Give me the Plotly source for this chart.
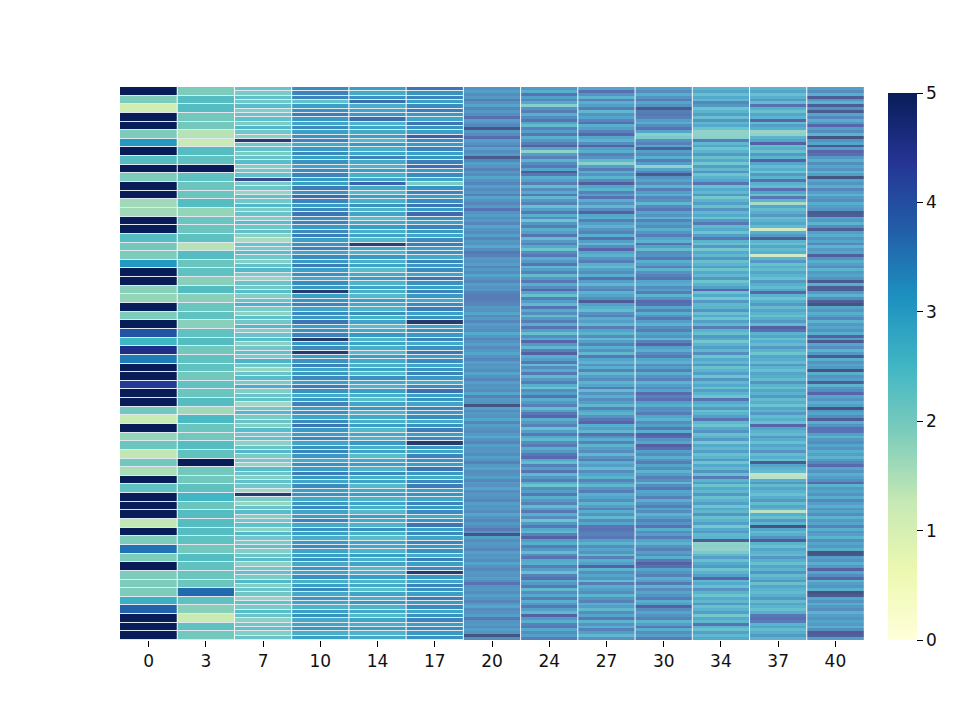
import plotly.graph_objects as go

# column labels along the bottom
col_labels = ["0", "3", "7", "10", "14", "17", "20", "24", "27", "30", "34", "37", "40"]

# values per column, read top to bottom (columns have different row counts)
col_0 = [
    5.0, 1.9, 1.1, 5.0, 5.0, 1.9, 3.0, 5.0, 2.3, 5.0, 1.9, 5.0, 5.0, 1.6, 1.6, 5.0,
    5.0, 2.3, 2.0, 1.9, 3.0, 5.0, 5.0, 1.8, 1.7, 5.0, 1.9, 5.0, 3.9, 2.5, 4.5, 3.4,
    5.0, 5.0, 4.3, 5.0, 5.0, 2.0, 1.2, 5.0, 1.7, 2.1, 1.3, 2.0, 1.5, 5.0, 2.2, 5.0,
    5.0, 5.0, 1.3, 5.0, 1.9, 3.5, 1.9, 5.0, 1.9, 1.9, 1.9, 2.6, 3.7, 5.0, 5.0, 5.0,
]
col_3 = [
    1.9, 2.3, 2.3, 2.0, 2.0, 1.4, 1.2, 2.3, 2.2, 5.0, 2.2, 2.1, 2.1, 2.3, 1.7, 2.1,
    2.1, 2.2, 1.4, 2.3, 2.1, 2.2, 1.8, 2.3, 1.8, 2.1, 2.2, 1.8, 2.2, 2.3, 2.0, 2.2,
    2.2, 2.0, 2.2, 2.1, 2.3, 1.6, 2.4, 2.1, 2.0, 2.3, 2.2, 5.0, 2.0, 2.0, 2.2, 2.5,
    2.1, 2.3, 2.3, 2.3, 2.2, 2.0, 2.3, 2.2, 2.1, 2.1, 3.6, 2.2, 1.8, 1.2, 2.2, 2.0,
]
col_7 = [
    2.3, 2.1, 2.4, 2.2, 2.5, 2.0, 2.3, 2.4, 2.1, 2.6, 2.2, 1.9, 5.0, 2.2, 2.4, 2.1,
    2.3, 2.5, 2.0, 2.2, 2.4, 4.6, 2.1, 2.3, 1.8, 2.4, 2.2, 2.6, 2.1, 2.3, 2.0, 2.5,
    2.2, 2.4, 1.9, 1.6, 2.3, 2.1, 2.5, 2.2, 2.0, 2.4, 2.6, 2.1, 1.8, 2.3, 2.2, 2.5,
    2.0, 2.3, 2.7, 2.1, 1.9, 2.4, 2.2, 2.6, 2.0, 2.3, 2.5, 1.9, 2.2, 2.4, 2.1, 2.7,
    2.2, 1.8, 2.3, 2.5, 2.1, 2.8, 2.0, 2.3, 2.4, 1.7, 2.2, 2.6, 2.1, 2.3, 2.0, 2.5,
    2.2, 2.4, 1.9, 2.3, 2.6, 2.1, 2.2, 1.8, 2.5, 2.3, 2.0, 2.4, 2.2, 1.7, 5.0, 2.1,
    1.8, 2.3, 2.5, 2.0, 2.2, 2.4, 1.9, 2.6, 2.2, 2.1, 2.4, 2.0, 2.3, 2.5, 1.9, 2.2,
    2.4, 2.1, 2.6, 2.0, 2.3, 2.2, 1.8, 2.4, 2.1, 2.5, 2.3, 1.9, 2.2, 2.4, 2.0, 2.3,
]
col_10 = [
    3.4, 3.5, 3.5, 2.4, 3.1, 3.3, 3.6, 3.2, 3.0, 3.4, 3.1, 3.3, 3.5, 2.9, 3.2, 3.4,
    3.1, 3.3, 3.0, 3.4, 3.5, 3.2, 3.1, 3.6, 3.3, 3.9, 3.5, 3.2, 3.4, 3.7, 3.3, 3.5,
    3.2, 3.4, 3.6, 3.1, 3.3, 3.5, 3.0, 3.4, 3.2, 3.6, 3.1, 3.3, 2.9, 3.4, 3.2, 5.0,
    3.1, 3.3, 3.5, 3.0, 3.4, 3.2, 3.7, 3.1, 3.3, 3.5, 5.0, 3.2, 3.4, 5.0, 3.1, 3.3,
    3.5, 3.0, 3.2, 3.4, 3.1, 3.6, 3.3, 2.9, 3.2, 3.5, 3.1, 3.3, 3.0, 3.4, 3.7, 3.2,
    3.1, 3.4, 3.0, 3.3, 3.5, 3.2, 2.9, 3.3, 3.1, 3.6, 3.2, 3.0, 3.4, 3.1, 3.3, 2.9,
    3.2, 3.4, 3.0, 3.1, 3.5, 2.9, 3.3, 3.1, 2.8, 3.2, 3.4, 3.0, 3.1, 3.3, 2.9, 3.2,
    3.0, 3.3, 2.8, 3.1, 3.4, 2.9, 3.2, 3.0, 2.7, 3.1, 3.3, 2.9, 3.0, 3.2, 2.8, 3.1,
]
col_14 = [
    3.1, 2.9, 3.3, 3.8, 2.8, 3.0, 3.2, 3.8, 2.7, 3.0, 2.9, 3.1, 2.6, 3.2, 2.8, 3.0,
    3.5, 2.9, 2.7, 3.1, 2.8, 3.0, 4.0, 2.9, 2.6, 3.1, 2.8, 3.3, 2.7, 3.0, 2.5, 2.9,
    3.1, 2.8, 3.0, 2.6, 4.9, 2.9, 2.7, 3.2, 2.8, 3.0, 2.5, 2.9, 3.1, 2.7, 3.0, 2.8,
    2.6, 3.1, 2.9, 2.7, 3.3, 2.8, 3.0, 2.5, 2.9, 3.2, 2.7, 3.0, 2.8, 2.6, 3.1, 2.9,
    2.8, 3.0, 2.6, 3.3, 2.9, 2.7, 3.1, 2.8, 2.5, 3.0, 3.2, 2.7, 2.9, 2.8, 3.1, 2.6,
    2.9, 2.7, 3.2, 2.8, 3.0, 2.5, 2.9, 3.1, 2.7, 3.4, 2.8, 3.0, 2.6, 2.9, 3.1, 2.7,
    3.0, 2.8, 2.6, 3.1, 2.9, 2.7, 3.3, 2.8, 2.5, 3.0, 2.9, 2.7, 3.1, 2.8, 3.0, 2.6,
    2.8, 3.1, 2.7, 2.9, 2.5, 3.0, 2.8, 3.2, 2.7, 2.9, 2.6, 3.0, 2.8, 3.1, 2.7, 2.9,
]
col_17 = [
    3.7, 3.3, 3.5, 3.1, 3.4, 3.6, 3.2, 3.0, 3.7, 3.3, 3.1, 4.1, 3.4, 3.2, 3.5, 3.1,
    3.3, 3.6, 3.8, 3.2, 3.4, 3.0, 2.1, 3.3, 3.5, 3.1, 3.4, 3.7, 3.2, 3.9, 3.3, 3.1,
    3.5, 3.2, 3.0, 3.4, 3.6, 3.1, 3.3, 2.9, 3.5, 3.2, 3.4, 3.0, 3.7, 3.3, 3.1, 3.5,
    3.2, 2.9, 3.4, 3.6, 3.1, 3.3, 5.0, 3.0, 3.4, 3.2, 3.5, 2.9, 3.3, 3.7, 3.1, 3.4,
    3.0, 3.3, 3.5, 3.2, 2.9, 3.4, 3.8, 3.1, 3.3, 3.0, 3.5, 3.2, 3.4, 2.9, 3.3, 3.6,
    3.1, 3.4, 5.0, 3.2, 3.0, 3.5, 3.3, 3.1, 3.7, 3.2, 2.9, 3.4, 3.6, 3.1, 3.3, 3.0,
    3.5, 3.2, 3.4, 2.9, 3.3, 3.7, 3.1, 3.4, 3.0, 3.5, 3.2, 3.3, 2.9, 3.6, 3.1, 3.4,
    5.0, 3.2, 3.0, 3.5, 3.3, 3.1, 3.6, 3.2, 3.4, 3.0, 3.3, 3.5, 3.1, 3.4, 3.2, 3.3,
]
col_20 = [
    3.5, 3.3, 3.6, 3.4, 3.9, 3.5, 3.2, 3.7, 3.4, 3.6, 4.2, 3.3, 3.5, 3.7, 4.9, 3.4,
    3.6, 4.3, 3.3, 3.5, 3.8, 3.2, 3.6, 3.4, 4.8, 3.7, 3.3, 3.5, 3.8, 3.4, 3.6, 3.2,
    3.5, 3.7, 3.3, 3.6, 3.4, 3.8, 3.2, 3.5, 3.7, 3.4, 4.1, 3.5, 3.3, 3.6, 3.4, 3.7,
    3.2, 3.5, 3.6, 3.3, 3.7, 3.4, 3.5, 3.1, 3.6, 4.0, 3.8, 3.4, 3.5, 3.3, 3.7, 3.4,
    3.6, 3.2, 3.5, 3.7, 3.3, 3.5, 3.4, 3.8, 3.9, 3.9, 3.8, 3.7, 3.4, 3.5, 3.2, 3.6,
    3.4, 3.7, 3.3, 3.5, 3.6, 3.1, 3.4, 3.7, 3.5, 3.3, 3.6, 3.4, 3.2, 3.5, 3.7, 3.3,
    3.5, 3.4, 3.6, 3.2, 3.5, 3.7, 3.3, 3.5, 3.4, 3.6, 3.2, 3.8, 3.4, 3.5, 5.0, 3.3,
    3.6, 3.4, 3.5, 3.2, 3.7, 3.3, 3.5, 3.6, 3.4, 3.1, 3.5, 3.7, 3.3, 3.5, 3.4, 3.6,
    3.3, 3.5, 3.8, 3.4, 3.2, 3.6, 3.5, 3.3, 3.7, 3.4, 3.5, 3.2, 3.6, 3.4, 3.5, 3.7,
    3.3, 3.5, 3.4, 3.6, 3.2, 3.5, 3.7, 3.4, 3.6, 4.0, 3.5, 5.0, 3.3, 3.6, 3.4, 3.5,
    3.7, 3.3, 3.5, 3.4, 3.6, 3.2, 3.5, 3.7, 3.4, 3.5, 3.3, 3.6, 4.1, 3.5, 3.4, 3.6,
    3.3, 3.5, 3.7, 3.4, 3.2, 3.6, 3.5, 3.3, 4.0, 3.5, 3.4, 3.6, 3.3, 3.5, 5.0, 3.6,
]
col_24 = [
    3.4, 3.0, 4.1, 3.3, 3.7, 3.1, 2.1, 3.5, 3.9, 3.0, 3.6, 4.1, 3.2, 2.7, 3.8, 3.3,
    4.0, 3.0, 3.4, 3.9, 4.5, 3.2, 2.0, 3.3, 3.8, 2.9, 3.6, 4.0, 3.2, 4.7, 4.0, 3.0,
    3.3, 3.9, 2.7, 3.6, 3.1, 4.0, 2.8, 3.4, 3.8, 2.6, 3.3, 4.0, 3.0, 3.6, 2.5, 3.4,
    3.9, 3.0, 3.3, 4.1, 2.7, 3.4, 3.8, 3.1, 2.5, 3.6, 4.0, 3.0, 3.4, 4.1, 2.8, 3.3,
    3.8, 2.7, 3.4, 4.0, 3.0, 3.6, 4.4, 3.2, 2.6, 3.9, 3.3, 2.8, 4.1, 3.1, 3.6, 2.7,
    3.4, 3.9, 3.0, 4.1, 3.3, 2.6, 3.6, 3.1, 4.4, 3.4, 2.8, 3.8, 4.5, 3.0, 3.3, 4.0,
    2.7, 3.6, 3.1, 4.0, 2.8, 3.4, 3.9, 3.0, 2.5, 3.6, 3.3, 4.1, 3.0, 3.4, 3.8, 2.7,
    3.3, 4.0, 4.4, 3.0, 3.4, 3.8, 2.6, 3.3, 4.0, 3.1, 2.8, 3.6, 3.9, 3.0, 3.4, 4.0,
    4.3, 3.1, 2.7, 3.8, 3.3, 4.1, 2.8, 3.4, 3.9, 3.0, 2.5, 3.6, 3.3, 4.0, 3.0, 3.4,
    3.8, 2.7, 3.3, 4.0, 3.0, 3.6, 2.5, 3.4, 4.0, 3.1, 2.8, 3.8, 4.5, 3.3, 3.0, 3.9,
    3.4, 2.7, 3.6, 4.1, 3.1, 3.0, 3.9, 3.3, 2.6, 3.8, 4.2, 3.1, 3.4, 4.0, 2.8, 3.6,
    3.1, 3.9, 3.0, 3.4, 4.0, 3.3, 2.8, 4.5, 3.4, 3.0, 3.8, 4.0, 3.1, 3.6, 3.3, 3.9,
]
col_27 = [
    3.2, 4.2, 3.5, 2.9, 3.8, 3.0, 3.3, 3.9, 2.8, 3.5, 3.2, 3.7, 4.2, 3.0, 3.3, 3.8,
    4.4, 3.2, 2.9, 3.6, 4.5, 3.3, 3.0, 3.8, 3.5, 2.8, 2.1, 3.3, 3.9, 3.0, 3.5, 2.9,
    3.6, 4.6, 3.2, 2.9, 3.8, 3.3, 4.1, 3.0, 3.5, 2.8, 3.6, 4.5, 3.2, 3.0, 3.9, 3.3,
    2.9, 3.5, 3.8, 3.0, 4.2, 3.3, 2.8, 3.6, 4.4, 3.2, 2.9, 3.5, 3.9, 3.0, 2.7, 3.3,
    3.6, 3.0, 4.2, 3.3, 2.8, 3.5, 3.8, 2.9, 3.2, 3.6, 4.7, 3.3, 3.0, 2.7, 3.5, 3.8,
    3.0, 3.3, 2.8, 3.9, 3.2, 2.9, 3.6, 2.7, 3.3, 3.8, 3.0, 3.5, 2.8, 4.0, 3.2, 2.9,
    3.5, 3.0, 3.8, 2.8, 3.3, 3.6, 2.9, 3.2, 3.9, 2.7, 3.5, 3.0, 3.6, 3.3, 2.8, 3.8,
    3.2, 2.9, 3.5, 4.0, 4.4, 3.0, 3.3, 2.8, 4.2, 3.5, 3.0, 3.8, 2.9, 3.3, 3.6, 2.8,
    3.5, 3.9, 3.0, 3.3, 2.7, 3.6, 3.2, 2.9, 3.8, 3.3, 2.8, 3.5, 3.9, 3.0, 3.2, 3.6,
    2.9, 3.3, 3.8, 3.0, 3.5, 2.8, 3.6, 3.2, 4.0, 4.1, 3.9, 3.8, 4.0, 3.3, 2.9, 3.6,
    3.2, 3.5, 2.8, 3.8, 3.0, 3.3, 4.5, 2.9, 3.6, 3.2, 3.5, 2.7, 3.9, 3.0, 3.3, 3.6,
    2.9, 3.5, 3.8, 3.0, 3.3, 2.8, 3.6, 3.2, 4.0, 2.9, 3.5, 3.0, 3.8, 3.3, 2.8, 3.5,
]
col_30 = [
    3.3, 3.6, 3.0, 3.5, 3.9, 3.2, 3.5, 4.8, 3.9, 4.0, 3.8, 3.3, 3.0, 3.6, 4.1, 3.2,
    2.1, 2.3, 3.5, 3.8, 3.2, 4.6, 3.3, 3.6, 3.0, 3.9, 3.3, 2.0, 3.2, 3.7, 4.8, 3.5,
    3.2, 3.6, 2.9, 3.9, 3.3, 3.0, 3.7, 3.5, 2.8, 3.6, 4.0, 3.2, 3.5, 2.9, 3.8, 3.3,
    3.6, 3.0, 3.5, 3.9, 3.2, 2.9, 4.1, 3.3, 2.7, 3.6, 3.5, 4.0, 3.0, 3.3, 3.8, 2.9,
    3.5, 3.8, 4.1, 3.2, 3.0, 3.6, 3.3, 3.9, 2.9, 3.5, 4.3, 4.2, 3.2, 3.8, 3.0, 3.5,
    4.0, 3.3, 2.9, 3.6, 3.9, 3.2, 3.5, 2.8, 3.8, 4.4, 3.3, 3.0, 3.6, 4.0, 3.2, 2.9,
    3.6, 3.3, 3.9, 3.0, 3.5, 3.8, 2.9, 3.3, 3.6, 3.2, 4.3, 3.8, 4.2, 3.3, 3.0, 3.6,
    3.5, 3.9, 3.2, 2.9, 3.6, 3.3, 4.0, 3.0, 4.5, 4.3, 3.5, 3.2, 4.5, 4.2, 3.3, 3.6,
    3.0, 3.5, 3.9, 3.2, 3.6, 2.9, 3.3, 3.8, 3.5, 2.8, 3.6, 4.0, 3.2, 3.3, 3.8, 3.0,
    3.5, 3.9, 3.2, 3.6, 2.9, 3.3, 3.8, 3.5, 4.1, 3.0, 3.6, 3.3, 3.9, 3.2, 2.9, 3.5,
    3.8, 3.3, 3.6, 3.0, 3.9, 4.5, 4.2, 3.2, 3.5, 3.8, 3.0, 3.3, 4.0, 2.9, 3.6, 3.2,
    3.5, 3.9, 3.0, 3.3, 4.5, 3.6, 3.2, 3.5, 3.8, 2.9, 3.3, 4.0, 3.0, 3.6, 3.3, 3.9,
]
col_34 = [
    2.9, 3.2, 2.6, 3.1, 2.8, 3.7, 3.4, 2.5, 2.9, 3.3, 2.6, 3.5, 2.8, 3.1, 2.5, 2.0,
    2.0, 2.1, 3.9, 2.8, 3.2, 2.5, 2.9, 3.4, 2.6, 3.1, 2.4, 3.3, 2.8, 3.5, 2.5, 2.9,
    3.2, 4.1, 2.6, 3.1, 2.8, 3.4, 2.4, 2.9, 3.3, 2.6, 3.5, 2.8, 3.1, 2.5, 3.4, 4.0,
    2.8, 3.1, 2.5, 3.3, 4.0, 2.9, 2.6, 3.4, 2.4, 3.1, 2.8, 3.5, 2.6, 2.9, 3.3, 2.5,
    3.1, 2.8, 3.4, 2.5, 2.9, 3.3, 4.4, 2.6, 3.1, 2.4, 3.4, 2.8, 2.9, 3.5, 2.6, 3.1,
    2.5, 3.3, 2.8, 3.9, 2.9, 2.6, 3.4, 3.1, 2.4, 2.9, 3.3, 2.8, 3.6, 2.5, 3.1, 2.8,
    3.4, 2.6, 2.9, 3.3, 2.5, 3.5, 2.8, 3.1, 2.6, 3.3, 2.9, 2.5, 4.1, 3.1, 2.8, 3.4,
    2.6, 2.9, 3.3, 4.1, 2.8, 2.5, 3.1, 3.5, 2.6, 2.9, 3.4, 2.4, 3.1, 2.8, 3.3, 2.6,
    2.9, 3.4, 2.5, 3.1, 2.8, 3.5, 2.6, 3.9, 2.9, 3.3, 2.5, 3.1, 2.8, 3.4, 2.6, 2.9,
    3.3, 2.5, 3.1, 2.8, 3.5, 2.6, 2.9, 3.3, 2.4, 3.1, 3.4, 2.8, 2.9, 4.7, 2.0, 2.1,
    2.0, 2.3, 2.8, 3.3, 2.6, 3.1, 3.4, 2.5, 2.9, 3.3, 4.4, 2.8, 3.1, 2.6, 3.5, 2.9,
    2.5, 3.1, 2.8, 3.4, 2.6, 2.9, 3.3, 2.4, 3.1, 2.8, 4.1, 2.9, 2.6, 3.3, 2.8, 3.1,
]
col_37 = [
    2.9, 3.2, 2.6, 3.0, 3.4, 2.7, 4.2, 3.0, 2.6, 3.2, 2.9, 4.4, 2.7, 3.3, 3.0, 1.9,
    2.0, 2.9, 3.2, 4.5, 2.7, 3.0, 2.6, 3.4, 2.9, 4.5, 3.2, 2.7, 3.0, 2.5, 3.4, 2.9,
    4.2, 3.0, 2.7, 4.2, 3.2, 2.6, 4.0, 2.9, 1.7, 3.2, 2.7, 3.0, 3.4, 2.6, 2.9, 3.2,
    2.7, 1.2, 3.0, 3.4, 4.7, 2.9, 2.6, 3.2, 2.7, 3.0, 1.2, 2.9, 3.4, 2.6, 3.0, 2.7,
    3.2, 2.9, 2.6, 3.4, 3.0, 2.7, 3.2, 4.4, 2.9, 2.5, 3.0, 3.4, 2.7, 3.2, 2.9, 2.6,
    3.0, 3.4, 2.7, 4.5, 4.2, 2.9, 3.2, 2.6, 3.0, 2.7, 3.4, 2.9, 2.5, 3.2, 3.0, 2.7,
    3.4, 2.9, 2.6, 3.2, 3.0, 2.7, 3.5, 2.9, 2.6, 3.2, 2.9, 3.4, 2.7, 3.0, 2.5, 3.2,
    2.9, 3.4, 2.7, 3.0, 2.6, 4.4, 3.2, 2.9, 2.7, 3.4, 3.0, 2.6, 3.2, 2.9, 3.5, 2.7,
    3.0, 2.6, 4.8, 3.2, 2.9, 2.7, 1.4, 1.5, 3.0, 3.4, 2.7, 3.2, 2.9, 2.6, 3.0, 3.4,
    2.7, 3.2, 2.9, 1.5, 3.0, 2.6, 3.4, 2.9, 5.0, 3.2, 2.7, 3.0, 3.5, 4.7, 2.9, 2.6,
    3.2, 2.9, 2.7, 3.4, 3.0, 2.6, 3.2, 2.9, 3.5, 2.7, 3.0, 3.4, 2.6, 3.2, 2.9, 2.7,
    3.0, 3.4, 2.7, 3.2, 2.9, 2.6, 3.0, 4.0, 4.2, 3.9, 2.9, 3.2, 2.7, 3.0, 3.4, 2.9,
]
col_40 = [
    3.3, 3.6, 3.0, 4.7, 3.4, 2.9, 4.7, 3.5, 4.8, 3.2, 3.7, 3.0, 3.4, 4.4, 3.3, 3.6,
    2.9, 5.0, 3.5, 3.2, 4.8, 3.3, 4.4, 4.2, 3.4, 3.0, 3.6, 3.2, 3.5, 2.9, 3.3, 5.0,
    3.2, 3.5, 3.0, 3.7, 3.3, 2.9, 3.4, 3.6, 3.0, 3.3, 3.5, 4.8, 4.7, 3.2, 3.4, 2.9,
    3.6, 4.7, 3.3, 3.0, 3.5, 3.2, 3.7, 2.9, 3.4, 3.2, 4.6, 3.5, 3.0, 3.3, 3.6, 2.9,
    3.4, 3.2, 3.5, 4.8, 3.0, 4.7, 4.7, 3.4, 2.9, 3.6, 4.7, 5.0, 3.2, 3.5, 3.0, 3.3,
    3.7, 2.9, 3.4, 3.2, 3.5, 3.0, 4.5, 3.3, 4.8, 3.2, 3.6, 2.9, 3.4, 4.8, 3.0, 3.5,
    3.2, 3.4, 5.0, 3.0, 3.5, 3.3, 4.7, 2.9, 3.4, 3.6, 4.4, 3.2, 3.5, 3.0, 3.3, 5.0,
    3.4, 3.2, 3.6, 4.7, 3.0, 3.5, 4.2, 4.1, 3.3, 2.9, 3.4, 3.6, 3.2, 3.5, 3.0, 3.3,
    2.9, 3.4, 3.7, 4.3, 3.2, 3.5, 3.0, 3.3, 3.6, 4.3, 2.9, 3.4, 3.2, 3.5, 3.0, 3.7,
    3.3, 3.0, 3.5, 3.2, 3.6, 2.9, 3.4, 3.2, 3.8, 3.0, 3.5, 3.3, 2.9, 3.6, 3.2, 3.4,
    3.0, 5.0, 4.9, 3.3, 3.5, 3.0, 3.4, 4.5, 3.2, 3.6, 4.4, 2.9, 3.3, 3.5, 3.0, 5.0,
    4.8, 3.2, 3.5, 3.0, 3.4, 3.6, 2.9, 3.3, 3.5, 3.2, 3.4, 3.0, 3.6, 4.7, 4.6, 3.3,
]

columns = [col_0, col_3, col_7, col_10, col_14, col_17, col_20,
           col_24, col_27, col_30, col_34, col_37, col_40]

colorbar_ticks = [0, 1, 2, 3, 4, 5]

# YlGnBu
ylgnbu = [
    [0.0, "#ffffd9"], [0.125, "#edf8b1"], [0.25, "#c7e9b4"], [0.375, "#7fcdbb"],
    [0.5, "#41b6c4"], [0.625, "#1d91c0"], [0.75, "#225ea8"], [0.875, "#253494"],
    [1.0, "#081d58"],
]

fig = go.Figure()

for i, vals in enumerate(columns):
    n = len(vals)
    # finer columns look washed out by the cell edge lines
    if n <= 64:
        gap, alpha = 1, 1.0
    elif n <= 128:
        gap, alpha = 1, 0.85
    else:
        gap, alpha = 0, 0.72
    fig.add_trace(go.Heatmap(
        z=[[v] for v in vals],
        x=[i - 0.5, i + 0.5],
        y=[r / n for r in range(n + 1)],
        zmin=0, zmax=5,
        colorscale=ylgnbu,
        ygap=gap,
        opacity=alpha,
        showscale=(i == 0),
        colorbar=dict(
            x=1.032, xanchor="left", xpad=0,
            y=0, yanchor="bottom", ypad=0,
            len=0.989, lenmode="fraction",
            thickness=29, thicknessmode="pixels",
            outlinewidth=0,
            tickvals=colorbar_ticks,
            ticks="outside", ticklen=6, tickwidth=1.2, tickcolor="#000",
            tickfont=dict(family="DejaVu Sans", size=17, color="#111"),
        ),
        hovertemplate=f"{col_labels[i]}: %{{z}}<extra></extra>",
    ))

# thin white separators between columns
for i in range(len(columns) - 1):
    fig.add_shape(type="line", x0=i + 0.5, x1=i + 0.5, y0=0, y1=1,
                  xref="x", yref="paper",
                  line=dict(color="rgba(255,255,255,0.9)", width=1))

fig.update_xaxes(
    range=[-0.5, len(columns) - 0.5],
    tickmode="array", tickvals=list(range(len(columns))), ticktext=col_labels,
    ticks="outside", ticklen=6, tickwidth=1.2, tickcolor="#000",
    tickfont=dict(family="DejaVu Sans", size=17, color="#111"),
    showgrid=False, zeroline=False, showline=False,
)
fig.update_yaxes(range=[1, 0], visible=False, showgrid=False, zeroline=False)

fig.update_layout(
    width=960, height=720,
    margin=dict(l=112, r=104, t=79, b=88),
    paper_bgcolor="white", plot_bgcolor="#dfe8ee",
    showlegend=False,
)

fig.write_html("out.html")
